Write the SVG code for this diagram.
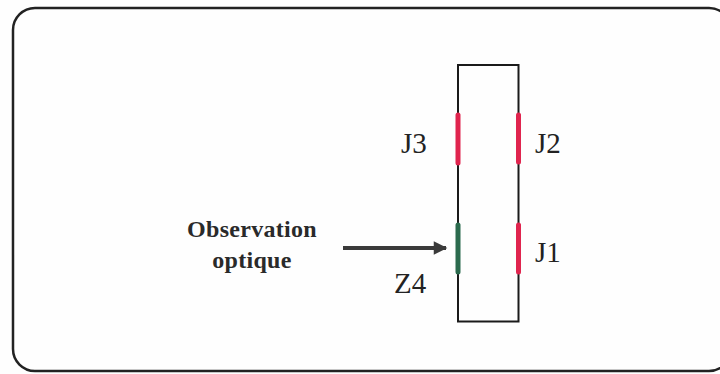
<svg xmlns="http://www.w3.org/2000/svg" width="720" height="374" viewBox="0 0 720 374">
<style>
.lbl{font-family:"Liberation Serif","Times New Roman",serif;font-size:29px;fill:#222}
.obs{font-family:"Liberation Serif","Times New Roman",serif;font-size:24px;font-weight:bold;fill:#2a2a2a;text-anchor:middle;letter-spacing:0.3px}
.red{stroke:#e0244e;stroke-width:5;stroke-linecap:round}
.grn{stroke:#2b6b4e;stroke-width:5;stroke-linecap:round}
</style>
<defs>
<marker id="ah" viewBox="0 0 10 10" refX="9" refY="5" markerWidth="4" markerHeight="3.4" orient="auto" markerUnits="strokeWidth">
<path d="M0,0 L10,5 L0,10 Z" fill="#3a3a3a"/>
</marker>
</defs>
<rect width="720" height="374" fill="#fefefe"/>
<rect x="13" y="8" width="718" height="363" rx="22" ry="22" fill="none" stroke="#222" stroke-width="2.5"/>
<g id="loop">
<rect x="458" y="65" width="60.5" height="256.5" fill="none" stroke="#1a1a1a" stroke-width="2"/>
</g>
<g id="J3"><line class="red" x1="458" y1="115" x2="458" y2="163"/><text class="lbl" x="401" y="153">J3</text></g>
<g id="J2"><line class="red" x1="518.5" y1="115" x2="518.5" y2="162"/><text class="lbl" x="535" y="153">J2</text></g>
<g id="Z4"><line class="grn" x1="458" y1="225" x2="458" y2="272"/><text class="lbl" x="394" y="293">Z4</text></g>
<g id="J1"><line class="red" x1="518.5" y1="225" x2="518.5" y2="272"/><text class="lbl" x="535" y="262">J1</text></g>
<g id="obs"><text class="obs" x="252" y="237">Observation</text><text class="obs" x="252" y="268">optique</text></g>
<g id="connectors">
<line x1="343" y1="248" x2="446" y2="248" stroke="#3a3a3a" stroke-width="4" marker-end="url(#ah)"/>
</g>
</svg>
